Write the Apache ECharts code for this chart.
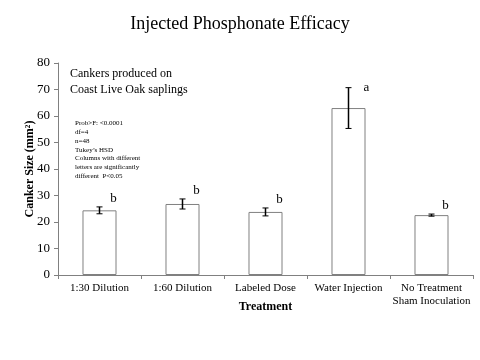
<!DOCTYPE html>
<html><head><meta charset="utf-8">
<script src="https://cdn.jsdelivr.net/npm/echarts@6/dist/echarts.min.js"></script>
<style>html,body{margin:0;padding:0;background:#fff}#c{width:480px;height:360px}</style>
</head><body><div id="c"></div>
<script>
var categories = ['1:30 Dilution', '1:60 Dilution', 'Labeled Dose', 'Water Injection', 'No Treatment\nSham Inoculation'];
var means = [24.4, 26.8, 23.8, 63.0, 22.6];
var errors = [1.3, 1.9, 1.5, 7.7, 0.4];
var letters = ['b', 'b', 'b', 'a', 'b'];
var yTicks = [0, 10, 20, 30, 40, 50, 60, 70, 80];
var statLines = ['Prob>F: <0.0001', 'df=4', 'n=48', 'Tukey\u2019s HSD', 'Columns with different', 'letters are significantly', 'different  P<0.05'];

var chart = echarts.init(document.getElementById('c'));
var serif = 'Liberation Serif';
var errData = means.map(function (m, i) { return [i, m - errors[i], m + errors[i], letters[i]]; });

chart.setOption({
  animation: false,
  backgroundColor: '#fff',
  title: {
    text: 'Injected Phosphonate Efficacy', left: 'center', top: 10,
    textStyle: { fontFamily: serif, fontSize: 18, fontWeight: 'normal', color: '#000' }
  },
  grid: { left: 58, right: 7, top: 63, bottom: 85 },
  xAxis: {
    type: 'category', data: categories,
    name: 'Treatment', nameLocation: 'middle', nameGap: 26, nameMoveOverlap: false,
    nameTextStyle: { fontFamily: serif, fontSize: 12, fontWeight: 'bold', color: '#000' },
    axisLine: { lineStyle: { color: '#808080' } },
    axisTick: { show: true, alignWithLabel: false, length: 4, lineStyle: { color: '#808080' } },
    axisLabel: { fontFamily: serif, fontSize: 11, color: '#000', margin: 7, lineHeight: 13, interval: 0 }
  },
  yAxis: {
    type: 'value', min: yTicks[0], max: yTicks[yTicks.length - 1], interval: 10,
    name: 'Canker Size (mm\u00B2)', nameLocation: 'middle', nameGap: 22, nameMoveOverlap: false,
    nameTextStyle: { fontFamily: serif, fontSize: 12, fontWeight: 'bold', color: '#000' },
    axisLine: { show: true, lineStyle: { color: '#808080' } },
    axisTick: { show: true, length: 4, lineStyle: { color: '#808080' } },
    splitLine: { show: false },
    axisLabel: { fontFamily: serif, fontSize: 13, color: '#000', margin: 8 }
  },
  series: [
    {
      type: 'bar', data: means, barWidth: '41%',
      itemStyle: { color: '#fff', borderColor: '#808080', borderWidth: 1 }
    },
    {
      type: 'custom', data: errData, z: 5,
      renderItem: function (params, api) {
        var x = api.coord([api.value(0), 0])[0];
        var lo = api.coord([api.value(0), api.value(1)])[1];
        var hi = api.coord([api.value(0), api.value(2)])[1];
        var w = 3;
        var st = { stroke: '#000', lineWidth: 1.5 };
        var ls = { stroke: '#000', lineWidth: 1 };
        var big = (api.value(2) - api.value(1)) > 5;
        return {
          type: 'group', children: [
            { type: 'line', shape: { x1: x, y1: hi, x2: x, y2: lo }, style: st },
            { type: 'line', shape: { x1: x - w, y1: hi, x2: x + w, y2: hi }, style: ls },
            { type: 'line', shape: { x1: x - w, y1: lo, x2: x + w, y2: lo }, style: ls },
            { type: 'text', x: x + (big ? 18 : 14), y: big ? hi : hi - 8,
              style: { text: api.value(3), fontFamily: serif, fontSize: 13, fill: '#000', textAlign: 'center', textVerticalAlign: 'middle' } }
          ]
        };
      }
    }
  ],
  graphic: [
    { type: 'text', left: 70, top: 66,
      style: { text: 'Cankers produced on\nCoast Live Oak saplings', fontFamily: serif, fontSize: 12, lineHeight: 16, fill: '#000' } },
    { type: 'text', left: 75, top: 119,
      style: { text: statLines.join('\n'), fontFamily: serif, fontSize: 7, lineHeight: 8.8, fill: '#000' } }
  ]
});
</script></body></html>
